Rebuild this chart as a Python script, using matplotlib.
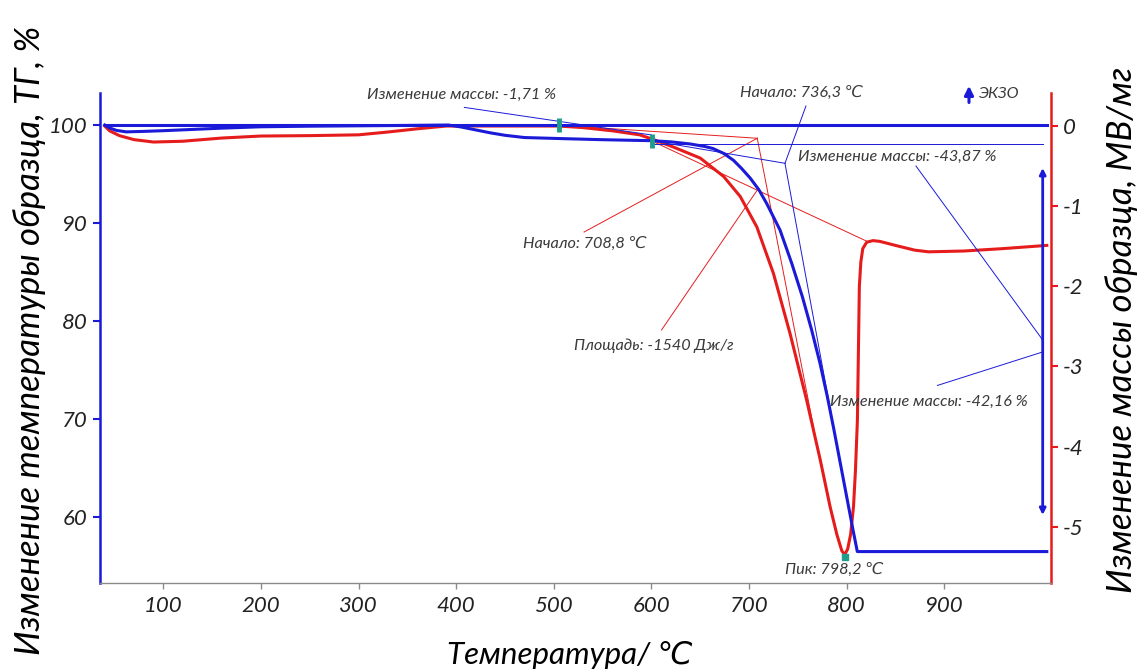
import matplotlib
matplotlib.use("Agg")
import matplotlib.pyplot as plt

plt.rcParams["font.family"] = ["Lato", "DejaVu Sans"]
plt.rcParams["font.style"] = "italic"
plt.rcParams["axes.unicode_minus"] = False

BLUE = "#1a1ad8"
RED = "#e61c1c"
TEAL = "#1f9e8e"
GREY = "#8a8a8a"
TXT = "#3a3a3a"

# TG curve (left axis, %)
tg_temp = [40, 45, 52, 62, 80, 100, 130, 160, 200, 250, 300, 350, 392, 405, 420, 435,
           450, 470, 505, 550, 600, 620, 640, 655, 663, 674, 684, 692, 701, 710, 718,
           731.7, 743.7, 754.6, 764.1, 772.7, 780.2, 787.0, 793.5, 800.0, 806.5, 810.9,
           1005]
tg_mass = [100.0, 99.7, 99.45, 99.3, 99.35, 99.42, 99.55, 99.68, 99.82, 99.88, 99.92,
           99.96, 100.0, 99.8, 99.5, 99.2, 98.95, 98.72, 98.62, 98.5, 98.4, 98.28,
           98.06, 97.8, 97.6, 97.1, 96.4, 95.6, 94.6, 93.4, 92.0,
           89.28, 85.88, 82.47, 79.07, 75.66, 72.26, 68.85, 65.45, 62.04, 58.64, 56.43,
           56.43]

# straight reference line at 100 %
ref_temp = [40, 1005]
ref_mass = [100.0, 100.0]

# DSC curve (right axis)
dsc_temp = [40, 45, 55, 70, 90, 120, 160, 200, 250, 300, 330, 360, 390, 505, 530, 560,
            588, 600, 622, 650, 674, 691, 708, 725, 742, 759, 773, 783, 790, 795, 798,
            801, 804, 807, 809, 811, 812, 813, 814.5, 816.5, 820.5, 827, 834, 850, 870,
            884, 920, 960, 1005]
dsc_flow = [0.0, -0.06, -0.12, -0.17, -0.2, -0.19, -0.15, -0.125, -0.12, -0.11, -0.075,
            -0.035, 0.0, 0.0, -0.02, -0.06, -0.11, -0.16, -0.26, -0.40, -0.63, -0.88,
            -1.26, -1.84, -2.59, -3.42, -4.17, -4.75, -5.1, -5.3, -5.35, -5.28, -5.1,
            -4.75, -4.3, -3.67, -2.84, -2.0, -1.7, -1.53, -1.45, -1.43, -1.44, -1.49,
            -1.55, -1.57, -1.56, -1.53, -1.49]

# software construction lines, TG side: (T1, T2), (y1, y2)
tg_lines = [
    ((408.4, 600.2), (101.8, 98.98)),
    ((600.2, 736.8), (98.40, 96.09)),
    ((736.8, 785.0), (96.09, 70.0)),
    ((758.3, 736.8), (101.94, 96.09)),
    ((600.2, 1000.8), (98.06, 98.06)),
    ((871.0, 1000.8), (95.81, 78.04)),
    ((893.0, 1000.8), (73.4, 76.82)),
]
# DSC side
dsc_lines = [
    ((502.9, 708.4), (0.012, -0.153)),
    ((708.4, 772.0), (-0.153, -4.13)),
    ((531.0, 708.4), (-1.323, -0.153)),
    ((602.0, 821.0), (-0.196, -1.44)),
    ((610.4, 708.4), (-2.545, -0.80)),
]

step_marks_t = [505, 600.4]
step_marks_v = [100.0, 98.4]
peak_t, peak_v = 798.2, -5.38

labels_txt = ["Изменение массы: -1,71 %", "Начало: 736,3 ℃", "Изменение массы: -43,87 %",
              "Начало: 708,8 ℃", "Площадь: -1540 Дж/г", "Изменение массы: -42,16 %",
              "Пик: 798,2 ℃"]
labels_t = [406, 754.2, 851.6, 531.9, 602.6, 884.3, 786.8]
labels_v = [103.06, 103.30, 96.70, 87.85, 77.43, 71.74, 54.55]

fig = plt.figure(figsize=(11.42, 6.69), dpi=100)
ax = fig.add_axes([100 / 1142, 86 / 669, 950.7 / 1142, 490 / 669])
ax2 = ax.twinx()
ax.set_zorder(2)
ax2.set_zorder(1)
ax.patch.set_visible(False)

ax.set_xlim(35.16, 1009.0)
ax.set_ylim(53.22, 103.27)
ax2.set_ylim(-5.703, 0.412)

ax2.plot(dsc_temp, dsc_flow, color=RED, lw=2.2)
for xs, ys in dsc_lines:
    ax2.plot(xs, ys, color=RED, lw=0.7)
ax2.plot([peak_t], [peak_v], "s", color=TEAL, ms=5)

ax.plot(ref_temp, ref_mass, color=BLUE, lw=2.2)
ax.plot(tg_temp, tg_mass, color=BLUE, lw=2.2)
for xs, ys in tg_lines:
    ax.plot(xs, ys, color=BLUE, lw=0.7)
ax.plot(step_marks_t, step_marks_v, "|", color=TEAL, ms=10, mew=3.5)

# double arrow for the mass step
ax.annotate("", xy=(1000.8, 95.61), xytext=(1000.8, 60.17),
            arrowprops=dict(arrowstyle="<|-|>", color=BLUE, lw=2, mutation_scale=9,
                            shrinkA=0, shrinkB=0))
# EXO arrow
ax.annotate("", xy=(925.3, 104.0), xytext=(925.3, 102.3), annotation_clip=False,
            arrowprops=dict(arrowstyle="-|>", color=BLUE, lw=2.2, mutation_scale=13,
                            shrinkA=0, shrinkB=0))
ax.text(956, 103.17, "ЭКЗО", color=TXT, fontsize=11.5, ha="center", va="center")

for s, t, v in zip(labels_txt, labels_t, labels_v):
    ax.text(t, v, s, color=TXT, fontsize=11.7, ha="center", va="center")

for side in ("top", "right"):
    ax.spines[side].set_visible(False)
for side in ("top", "left", "bottom"):
    ax2.spines[side].set_visible(False)
ax.spines["left"].set_color(BLUE)
ax.spines["left"].set_linewidth(1.8)
ax.spines["bottom"].set_color(GREY)
ax.spines["bottom"].set_linewidth(1.0)
ax2.spines["right"].set_color(RED)
ax2.spines["right"].set_linewidth(1.8)

ax.set_xticks(range(100, 1000, 100))
ax.set_yticks([60, 70, 80, 90, 100])
ax2.set_yticks([0, -1, -2, -3, -4, -5])
ax.tick_params(axis="x", color=GREY, length=4, width=1, labelsize=16, labelcolor="#222", pad=5)
ax.tick_params(axis="y", color=BLUE, length=5, width=1.5, labelsize=16, labelcolor="#222", pad=4)
ax2.tick_params(axis="y", color=RED, length=5, width=1.5, labelsize=16, labelcolor="#222", pad=4)

fig.text(570 / 1142, 1 - 655 / 669, "Температура/ ℃", fontsize=22.5, ha="center", va="center")
fig.text(30 / 1142, 1 - 340 / 669, "Изменение температуры образца, ТГ, %", fontsize=25,
         rotation=90, ha="center", va="center")
fig.text(1122 / 1142, 1 - 330 / 669, "Изменение массы образца, МВ/мг", fontsize=25,
         rotation=90, ha="center", va="center")

fig.savefig("out.png", dpi=100)
